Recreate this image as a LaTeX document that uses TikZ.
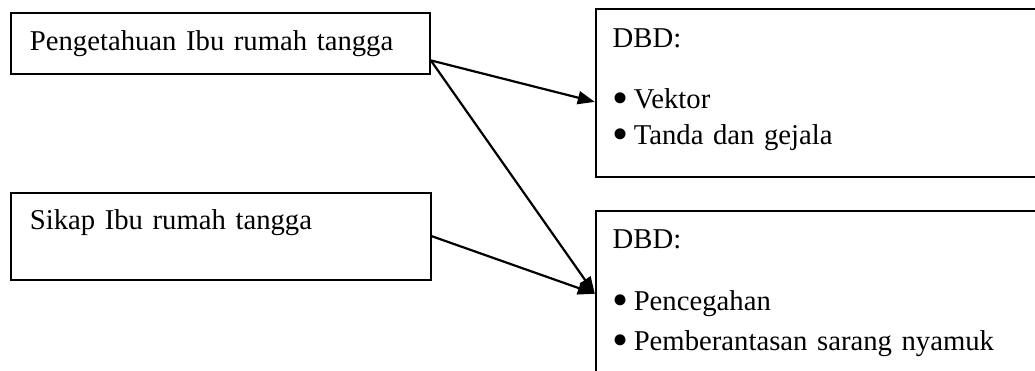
\documentclass[tikz,border=0pt]{standalone}
\usepackage{fontspec}
\setmainfont{Liberation Serif}
\usepackage{tikz}
\usetikzlibrary{positioning}
\usetikzlibrary{arrows.meta}

\newcommand{\dotitem}{\smash{\raisebox{-0.17em}{\scalebox{1.6}{\textbullet}}}\kern5pt}

\tikzset{
	box/.style={draw, line width=1.8pt, align=left, inner ysep=0pt,
		font=\fontsize{28.7pt}{36pt}\selectfont},
	link/.style={-{Triangle[length=17pt,width=13pt]}, line width=2.2pt}
}

\begin{document}
\begin{tikzpicture}[x=1pt,y=-1pt]

		\useasboundingbox (0,0) rectangle (1035,371);

		% factors
		\node (know) [box, anchor=north west, inner xsep=19pt, text width=381pt,
			text height=38pt, text depth=23pt] at (10,12) {Pengetahuan Ibu rumah tangga};
		\node (attitude) [box, below = 117pt of know.south west, anchor=north west,
			inner xsep=19pt, text width=382pt, text height=37pt, text depth=50pt]
			{Sikap Ibu rumah tangga};

		% DBD boxes
		\node (signs) [box, right = 164pt of know.north east, anchor=north west, yshift=4pt,
			inner xsep=17pt, text width=420pt, text height=39pt, text depth=129pt]
			{DBD:\\[25pt]\dotitem Vektor\\\dotitem Tanda dan gejala};
		\node (prevention) [box, below = 32pt of signs.south west, anchor=north west,
			inner xsep=17pt, text width=420pt, text height=38pt, text depth=150pt]
			{DBD:\\[26pt]\dotitem Pencegahan\\[4pt]\dotitem Pemberantasan sarang nyamuk};

		% links
		\draw [link] ([yshift=-17pt]know.east) -- ([yshift=-9pt]signs.west);
		\draw [link] ([yshift=-17pt]know.east) -- ([yshift=-84pt]prevention.north west);
		\draw [link] (attitude.east) -- ([yshift=-84pt]prevention.north west);

	\end{tikzpicture}
\end{document}
